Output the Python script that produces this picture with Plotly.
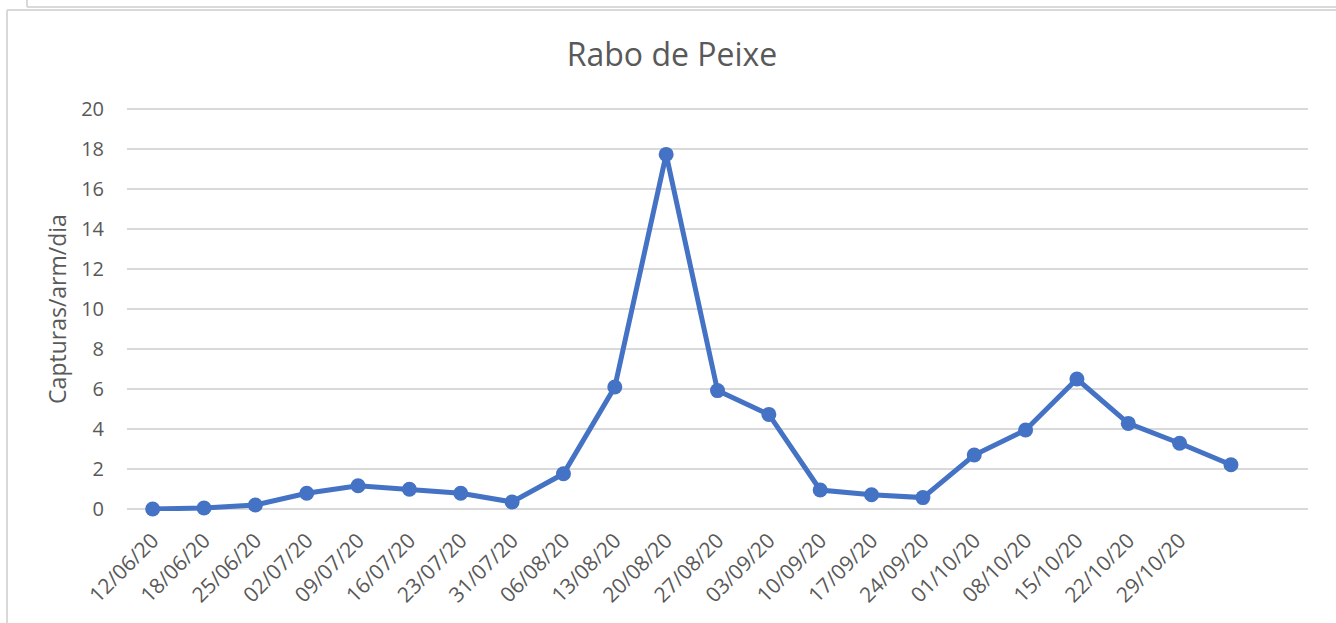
import plotly.graph_objects as go

categories = ["12/06/20", "18/06/20", "25/06/20", "02/07/20", "09/07/20", "16/07/20",
              "23/07/20", "31/07/20", "06/08/20", "13/08/20", "20/08/20", "27/08/20",
              "03/09/20", "10/09/20", "17/09/20", "24/09/20", "01/10/20", "08/10/20",
              "15/10/20", "22/10/20", "29/10/20"]
values = [0.0, 0.05, 0.2, 0.79, 1.16, 0.99, 0.79, 0.35, 1.76, 6.1, 17.73, 5.92,
          4.73, 0.95, 0.71, 0.57, 2.7, 3.95, 6.5, 4.28, 3.29, 2.21]
y_ticks = [0, 2, 4, 6, 8, 10, 12, 14, 16, 18, 20]

x_idx = list(range(len(values)))

fig = go.Figure()
fig.add_trace(go.Scatter(
    x=x_idx, y=values, mode="lines+markers",
    line=dict(color="#4472C4", width=5),
    marker=dict(color="#4472C4", size=15),
    showlegend=False, cliponaxis=False, hoverinfo="skip",
))

W, H = 1336, 623
pad = 2
L, R = 127, W - 1308
T, B = 109 - pad, H - 509 - pad
pw = W - L - R
ph = H - T - B
ymin = -pad * 20 / 400
ymax = 20 + pad * 20 / 400

def px(x):
    return (x - L) / pw

def py(y):
    return (H - B - y) / ph

grey = "#D9D9D9"
shapes = [
    dict(type="line", xref="paper", yref="paper", x0=px(7), x1=px(7), y0=py(10), y1=py(640),
         line=dict(color=grey, width=2)),
    dict(type="line", xref="paper", yref="paper", x0=px(7), x1=px(1345), y0=py(10), y1=py(10),
         line=dict(color=grey, width=2)),
    dict(type="line", xref="paper", yref="paper", x0=px(27), x1=px(27), y0=py(-10), y1=py(7),
         line=dict(color=grey, width=2)),
    dict(type="line", xref="paper", yref="paper", x0=px(27), x1=px(1345), y0=py(7), y1=py(7),
         line=dict(color=grey, width=2)),
]

fig.update_layout(
    width=W, height=H,
    margin=dict(l=L, r=R, t=T, b=B, autoexpand=False),
    paper_bgcolor="white", plot_bgcolor="white",
    font=dict(family="Open Sans, Liberation Sans, sans-serif", color="#595959"),
    title=dict(text="Rabo de Peixe", x=672 / W, xref="container", xanchor="center",
               y=1 - 55 / H, yanchor="middle",
               font=dict(size=32, color="#595959")),
    shapes=shapes,
    hovermode=False,
    xaxis=dict(
        range=[-0.5, 22.5],
        tickmode="array", tickvals=list(range(len(categories))), ticktext=categories,
        tickangle=-45, showgrid=False, zeroline=False,
        showline=False, ticks="", tickfont=dict(size=21, color="#595959"),
        ticklabelstandoff=12,
    ),
    yaxis=dict(
        range=[ymin, ymax], tickmode="array", tickvals=y_ticks,
        showgrid=True, gridcolor=grey, gridwidth=1.5, zeroline=False,
        ticks="", ticklabelstandoff=22, tickfont=dict(size=20, color="#595959"),
        title=dict(text="Capturas/arm/dia", font=dict(size=23, color="#595959"), standoff=8),
    ),
)

fig.write_html("out.html", post_script="document.body.style.margin='0';",
               config={"displayModeBar": False})
